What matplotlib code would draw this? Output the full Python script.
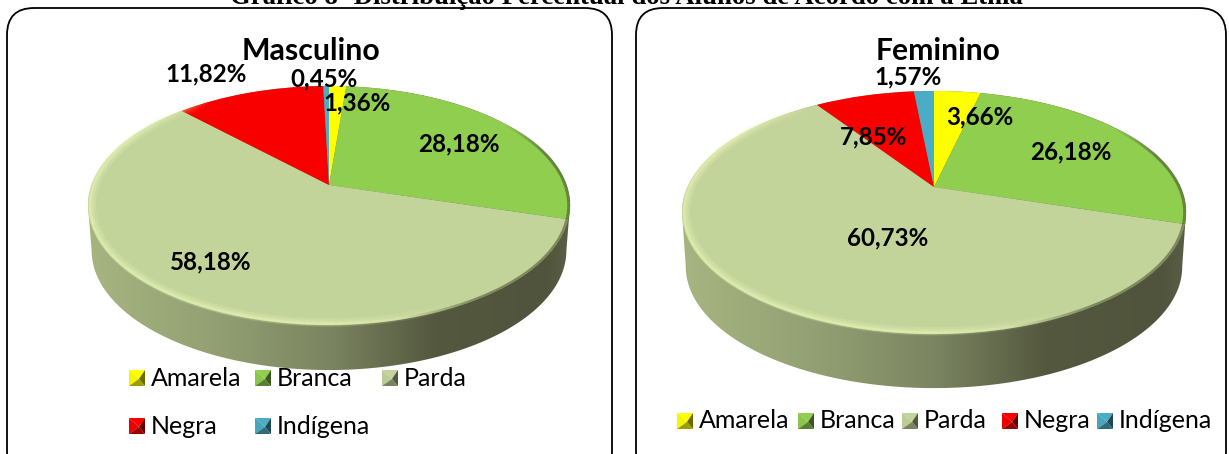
import numpy as np
import matplotlib
matplotlib.use("Agg")
import matplotlib.pyplot as plt
from matplotlib.collections import LineCollection
from matplotlib.colors import LinearSegmentedColormap, to_rgb
from matplotlib.patches import FancyBboxPatch, Polygon
from matplotlib.transforms import Transform

categories = ["Amarela", "Branca", "Parda", "Negra", "Indígena"]
masculino = [1.36, 28.18, 58.18, 11.82, 0.45]
feminino = [3.66, 26.18, 60.73, 7.85, 1.57]
colors = ["#ffff00", "#8fce4e", "#c3d49b", "#f90000", "#4bacc6"]
title = "Gráfico 8- Distribuição Percentual dos Alunos de Acordo com a Etnia"

W, H = 1229, 454
plt.rcParams["font.family"] = ["Lato", "DejaVu Sans"]
fig = plt.figure(figsize=(W / 100, H / 100), dpi=100)
ax = fig.add_axes([0, 0, 1, 1])


class Perspective(Transform):
    """Tilted-disc projection: unit pie coordinates to pixel-like axes coordinates."""
    input_dims = output_dims = 2
    is_separable = False
    has_inverse = False

    def __init__(self, cx, cy, R, B, a):
        super().__init__()
        self.p = (cx, cy, R, B, a)

    def transform_non_affine(self, values):
        cx, cy, R, B, a = self.p
        v = np.asarray(values, float)
        d = 1 + a * v[:, 1]
        return np.column_stack([cx + R * v[:, 0] / d, cy - B * v[:, 1] / d])


def shade(col, f):
    return tuple(np.clip(np.array(to_rgb(col)) * f, 0, 1))


side_cmap = LinearSegmentedColormap.from_list(
    "side", [(0, "#a6b580"), (0.25, "#94a174"), (0.5, "#7b8561"),
             (0.72, "#54583f"), (0.95, "#50543c"), (1, "#5a5e46")])


def rim_line(tr, s0, s1, radius, rgb, alpha_of, lw):
    s = np.linspace(np.radians(s0), np.radians(s1), 181)
    pts = radius * np.column_stack([np.sin(s), np.cos(s)])
    segs = np.stack([pts[:-1], pts[1:]], axis=1)
    f = (s[:-1] - s[0]) / (s[-1] - s[0])
    cols = [(*rgb, alpha_of(x)) for x in f]
    ax.add_collection(LineCollection(segs, colors=cols, linewidths=lw, zorder=3,
                                     capstyle="butt", transform=tr + ax.transData), autolim=False)


def draw_pie(values, cx, cy, R, B, a, depth):
    tr = Perspective(cx, cy, R, B, a)
    t = np.linspace(0, 2 * np.pi, 721)
    unit = np.column_stack([np.sin(t), np.cos(t)])
    rim = tr.transform_non_affine(unit)
    il, ir = rim[:, 0].argmin(), rim[:, 0].argmax()
    low = rim.copy()
    low[:, 1] += depth
    low[:, 0] = cx + (low[:, 0] - cx) * 0.985
    back = np.r_[rim[il:], rim[:ir + 1]]
    front = low[ir:il + 1]
    side = Polygon(np.r_[back, front], closed=True, fc="none", ec="none", transform=ax.transData)
    ax.add_patch(side)
    x0, x1 = rim[il, 0], rim[ir, 0]
    im = ax.imshow(np.linspace(0, 1, 256)[None, :], cmap=side_cmap, aspect="auto",
                   extent=(x0, x1, rim[:, 1].max() + depth + 2, rim[:, 1].min()), zorder=1)
    im.set_clip_path(side)
    wedges, _ = ax.pie(values, colors=colors, startangle=90, counterclock=False,
                       radius=1, frame=True, wedgeprops=dict(linewidth=0, zorder=2))
    for w in wedges:
        w.set_transform(tr + ax.transData)
    # soft bevel: light along the front-left edge, dark along the right edge
    hump = lambda x: np.clip(np.sin(x * np.pi) * 2.0, 0, 1)
    rim_line(tr, 150, 325, 0.985, (0.90, 0.95, 0.70), lambda x: 0.22 * hump(x), 6)
    rim_line(tr, 150, 325, 0.988, (0.90, 0.95, 0.70), lambda x: 0.30 * hump(x), 3.5)
    rim_line(tr, 150, 325, 0.992, (0.90, 0.95, 0.70), lambda x: 0.55 * hump(x), 1.6)
    rim_line(tr, 55, 165, 0.995, (0.25, 0.28, 0.15), lambda x: 0.55 * hump(x), 2.2)


def legend_key(x, y, col, s=16):
    c = (x + s * 0.62, y + s * 0.56)
    a, b, d, e = (x, y), (x + s, y), (x + s, y + s), (x, y + s)
    for pts, f in [((a, b, c), 1.0), ((e, a, c), 0.96), ((b, d, c), 0.42), ((d, e, c), 0.62)]:
        ax.add_patch(Polygon(pts, closed=True, fc=shade(col, f), ec="none", zorder=4))


for (x0, x1) in [(7, 612), (636, 1226)]:
    ax.add_patch(FancyBboxPatch((x0 + 27, 8 + 27), x1 - x0 - 54, 470 - 54,
                                boxstyle="round,pad=27,rounding_size=27",
                                fc="white", ec="black", lw=1.3, zorder=0.5))

draw_pie(masculino, 329, 185, 237.4, 116, 0.1716, 45)
draw_pie(feminino, 934, 187, 246.4, 116.2, 0.21, 54)

# pie resets limits and aspect: pixel coordinates for the whole figure
ax.set_aspect("auto")
ax.set_xlim(0, W)
ax.set_ylim(H, 0)
ax.set_xticks([])
ax.set_yticks([])
ax.axis("off")

ax.text(626.5, 3.5, title, family=["Liberation Serif"], weight="bold", fontsize=19.3,
        ha="center", va="baseline", zorder=6)
ax.text(311, 51, "Masculino", weight="bold", fontsize=21.8, ha="center", va="center", zorder=6)
ax.text(938, 51, "Feminino", weight="bold", fontsize=21.6, ha="center", va="center", zorder=6)

m_pos = [(357, 103), (459, 144), (211, 262), (206, 74), (324, 79)]
f_pos = [(980, 117), (1071, 152), (888, 238), (874, 137), (908, 77)]
for vals, pos in [(masculino, m_pos), (feminino, f_pos)]:
    for v, (x, y) in zip(vals, pos):
        ax.text(x, y, f"{v:.2f}%".replace(".", ","), weight="bold", fontsize=17.4,
                ha="center", va="center", zorder=6)

m_leg = [(129, 370), (255, 370), (382, 370), (129, 418), (255, 418)]
f_leg = [(677, 413), (798, 413), (902, 413), (1002, 413), (1097, 413)]
for pos in (m_leg, f_leg):
    for name, col, (x, y) in zip(categories, colors, pos):
        legend_key(x, y, col)
        ax.text(x + 22, y + 8, name, fontsize=18, ha="left", va="center", zorder=6)

fig.savefig("out.png", dpi=100)
